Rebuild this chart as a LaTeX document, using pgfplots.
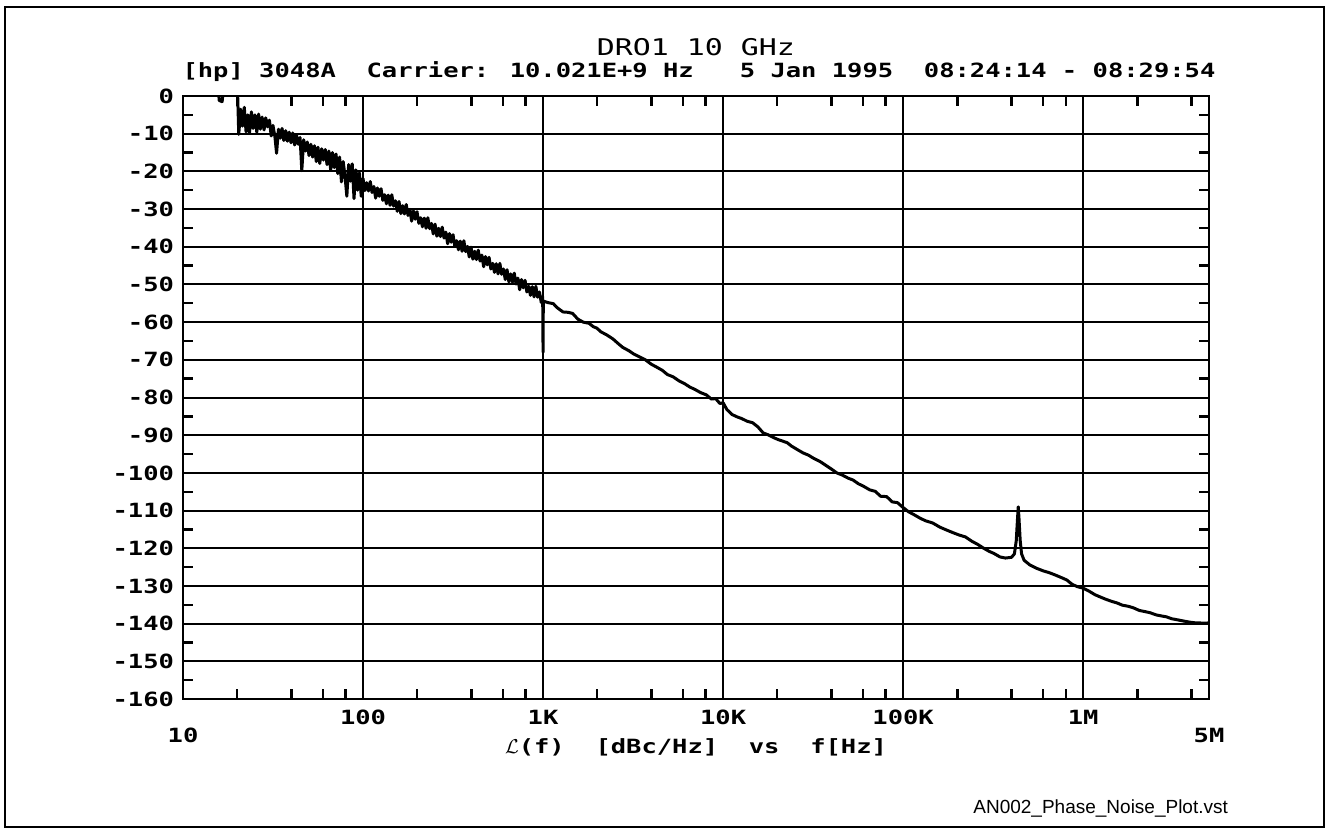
\documentclass[border=0pt]{standalone}
\usepackage{fontspec}
\usepackage{pgfplots}
\pgfplotsset{compat=1.18}
\newfontfamily\hpfont[FakeStretch=1.3]{DejaVu Sans Mono}
\newfontfamily\arialfont{Liberation Sans}
\newcommand\hplab{\hpfont\bfseries\fontsize{9.8}{10}\selectfont}

% phase noise trace, f [Hz] vs L(f) [dBc/Hz]
\pgfplotstableread{
f dB
12 5
15.5 5
15.9 -1.2
16.5 -1.5
17.0 5
20.0 5
20.4 -10.2
20.9 -3.5
21.4 -8.0
21.9 -3.0
22.4 -9.5
22.9 -5.0
23.4 -9.8
24.0 -4.2
24.5 -8.6
25.1 -5.0
25.7 -9.6
26.3 -4.8
26.9 -8.8
27.5 -5.6
28.2 -9.0
28.8 -5.8
29.5 -8.2
30.2 -6.4
30.9 -10.6
31.6 -7.8
32.4 -10.8
33.1 -15.2
33.9 -8.8
34.7 -11.2
35.5 -8.6
36.3 -11.8
37.2 -9.2
38.0 -12.0
38.9 -9.6
39.8 -12.4
40.7 -9.8
41.7 -13.0
42.7 -10.4
43.7 -12.8
44.7 -11.0
45.7 -19.8
46.8 -11.6
47.9 -14.6
49.0 -12.2
50.1 -15.8
51.3 -12.8
52.5 -16.2
53.7 -13.2
55.0 -17.4
56.2 -13.6
57.5 -17.9
58.9 -14.0
60.3 -17.0
61.7 -14.2
63.1 -18.2
64.6 -14.6
66.1 -19.6
67.6 -15.0
69.2 -19.0
70.8 -15.4
72.4 -20.6
74.1 -16.2
75.9 -22.8
77.6 -17.4
79.4 -21.2
81.3 -26.6
83.2 -18.2
85.1 -22.6
87.1 -18.0
89.1 -27.2
91.2 -19.6
93.3 -25.0
95.5 -20.4
97.7 -26.6
100.0 -21.9
102.3 -25.1
104.7 -23.0
107.2 -25.2
109.7 -22.7
112.2 -25.6
114.8 -24.0
117.5 -27.1
120.2 -24.4
123.0 -26.6
125.9 -24.6
128.8 -27.7
131.8 -26.2
134.9 -28.6
138.0 -26.3
141.3 -29.0
144.5 -26.2
147.9 -29.2
151.4 -27.8
154.9 -30.6
158.5 -28.0
162.2 -31.2
166.0 -29.1
169.8 -31.3
173.8 -28.8
177.8 -31.7
182.0 -30.1
186.2 -33.2
190.6 -30.5
195.0 -32.7
199.5 -30.7
204.2 -33.8
208.9 -32.3
213.8 -34.7
218.8 -32.4
223.9 -35.1
229.1 -32.3
234.4 -35.2
239.9 -33.8
245.5 -36.6
251.2 -34.0
257.0 -37.2
263.0 -35.1
269.2 -37.3
275.4 -34.8
281.8 -37.7
288.4 -36.1
295.1 -39.2
302.0 -36.5
309.0 -38.8
316.2 -36.8
323.6 -39.9
331.1 -38.4
338.8 -40.8
346.7 -38.5
354.8 -41.2
363.1 -38.4
371.5 -41.3
380.2 -39.9
389.1 -42.7
398.1 -40.1
407.4 -43.3
416.9 -41.2
426.6 -43.4
436.5 -40.9
446.7 -43.8
457.1 -42.2
467.7 -45.3
478.6 -42.6
489.8 -44.8
501.2 -42.8
512.9 -45.9
524.8 -44.4
537.0 -46.8
549.5 -44.5
562.3 -47.2
575.4 -44.4
588.8 -47.3
602.6 -45.9
616.6 -48.7
631.0 -46.1
645.7 -49.3
660.7 -47.2
676.1 -49.4
691.8 -47.0
707.9 -49.9
724.4 -48.3
741.3 -51.4
758.6 -48.7
776.2 -50.9
794.3 -48.9
812.8 -52.0
831.8 -50.5
851.1 -52.9
871.0 -50.6
891.3 -53.3
912.0 -50.5
933.3 -53.4
955.0 -52.0
977.2 -54.8
995.0 -53.2
1000 -68
1003 -54.4
1060 -54.8
1140 -55.1
1200 -56.2
1290 -57.3
1380 -57.4
1460 -57.7
1560 -59.2
1670 -60.0
1800 -60.3
1900 -61.2
1990 -61.6
2100 -62.6
2260 -63.4
2450 -64.5
2600 -65.6
2770 -66.7
3000 -67.6
3200 -68.5
3430 -69.2
3700 -70.0
4000 -71.2
4260 -71.9
4600 -72.8
4900 -73.9
5270 -74.5
5700 -75.6
6100 -76.3
6520 -77.2
7000 -77.9
7500 -78.7
8070 -79.3
8600 -80.4
9100 -80.3
9600 -81.6
10000 -81.4
10500 -83.2
11200 -84.5
11900 -85.1
12700 -85.6
13600 -86.3
14600 -86.7
15600 -87.8
16700 -89.4
17800 -89.9
19000 -90.6
20300 -91.2
21500 -91.6
22700 -92.0
24000 -92.9
25800 -93.8
27800 -94.7
29800 -95.3
32000 -96.2
34600 -97.0
37200 -98.0
40000 -99.0
42800 -100.0
46000 -100.6
49500 -101.4
52700 -101.9
56500 -102.9
60500 -103.6
65200 -104.5
70000 -104.9
75000 -106.2
81000 -106.3
87000 -107.7
93000 -107.9
100000 -109.2
107000 -110.3
115000 -111.1
124000 -112.0
133000 -112.7
146000 -113.3
160000 -114.4
175000 -115.2
190000 -115.9
205000 -116.5
222000 -117.0
240000 -118.1
260000 -119.0
278000 -119.9
300000 -120.8
320000 -121.4
345000 -122.3
370000 -122.6
400000 -122.4
415000 -121.5
425000 -118
432000 -112
436000 -109
440000 -112
447000 -118
455000 -121.5
470000 -123.2
505000 -124.4
550000 -125.3
600000 -126.0
650000 -126.5
700000 -127.1
750000 -127.7
810000 -128.4
870000 -129.6
930000 -130.2
1000000 -130.6
1080000 -131.4
1160000 -132.3
1240000 -132.9
1330000 -133.5
1440000 -134.1
1540000 -134.5
1650000 -135.1
1780000 -135.4
1900000 -135.8
2050000 -136.5
2200000 -136.8
2350000 -137.1
2550000 -137.7
2750000 -138.0
2900000 -138.2
3100000 -138.7
3350000 -139.0
3600000 -139.3
3900000 -139.6
4200000 -139.8
4400000 -139.8
4700000 -139.9
5000000 -139.8
}\tracedata

\begin{document}
\begin{tikzpicture}
\path (0,0) rectangle (664.5pt,416pt);
\draw[line width=0.6pt] (2.5pt,2.5pt) rectangle (662pt,412.5pt);
\begin{axis}[
  at={(91.5pt,66.5pt)}, anchor=south west,
  width=513pt, height=301.5pt, scale only axis,
  xmode=log, xmin=10, xmax=5000000, ymin=-160, ymax=0,
  xtick={100,1000,10000,100000,1000000},
  xticklabels={100,1K,10K,100K,1M},
  extra x ticks={10,5000000},
  extra x tick labels={10,5M},
  extra x tick style={grid=none, xticklabel style={yshift=-9pt}},
  minor xtick={20,40,60,80,200,400,600,800,2000,4000,6000,8000,20000,40000,60000,80000,200000,400000,600000,800000,2000000,4000000},
  ytick={-160,-150,...,0},
  yticklabels={-160,-150,-140,-130,-120,-110,-100,-90,-80,-70,-60,-50,-40,-30,-20,-10,0},
  minor ytick={-155,-145,...,-5},
  grid=major,
  major grid style={black, line width=1pt},
  axis line style={black, line width=1.4pt},
  major tick length=0pt,
  minor tick length=5pt,
  every tick/.style={black, line width=1.2pt},
  tick label style={font=\hplab},
  xticklabel style={yshift=-2pt},
  yticklabel style={xshift=-1pt},
]
\addplot[black, line width=1.5pt, line join=round] table[x=f, y=dB] {\tracedata};
\end{axis}
\node[font=\hpfont\fontsize{11.5}{12}\selectfont] at (348pt,392.5pt) {DRO1 10 GHz};
\node[font=\hplab] at (349.5pt,380pt) {[hp] 3048A\ \ Carrier: 10.021E+9 Hz\ \ \ 5 Jan 1995\ \ 08:24:14 - 08:29:54};
\node[font=\hplab] at (348pt,42.5pt) {$\mathcal{L}$(f)\ \ [dBc/Hz]\ \ vs\ \ f[Hz]};
\node[font=\arialfont\fontsize{9.5}{10}\selectfont, anchor=east] at (617.5pt,12pt) {AN002\_Phase\_Noise\_Plot.vst};
\end{tikzpicture}
\end{document}
